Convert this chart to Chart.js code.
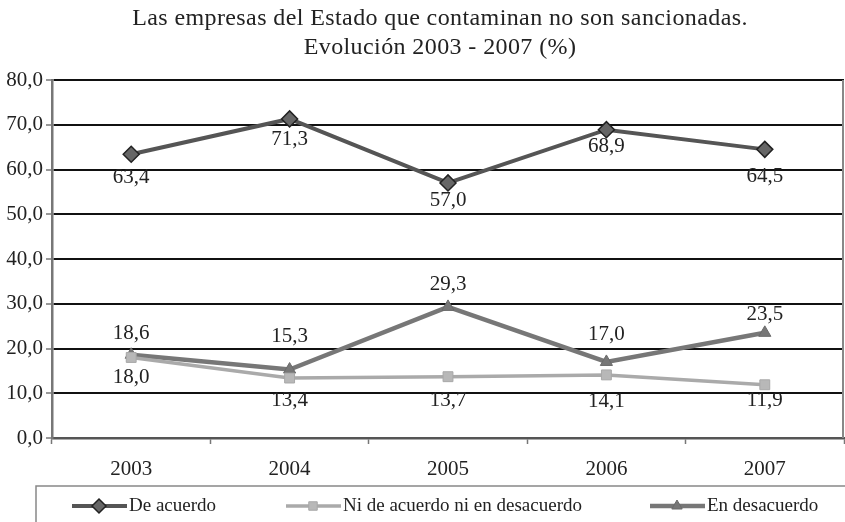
<!DOCTYPE html>
<html>
<head>
<meta charset="utf-8">
<script src="https://cdn.jsdelivr.net/npm/chart.js@4"></script>
<style>
  html, body { margin: 0; padding: 0; background: #fff; }
  #cont { width: 845px; height: 522px; }
</style>
</head>
<body>
<div id="cont"><canvas id="grafico" width="845" height="522"></canvas></div>
<script>
// Datos del gráfico
const anios = ['2003', '2004', '2005', '2006', '2007'];
const deAcuerdo = [63.4, 71.3, 57.0, 68.9, 64.5];
const niDeAcuerdo = [18.0, 13.4, 13.7, 14.1, 11.9];
const enDesacuerdo = [18.6, 15.3, 29.3, 17.0, 23.5];
const ticksY = [0, 10, 20, 30, 40, 50, 60, 70, 80];
const titulo = ['Las empresas del Estado que contaminan no son sancionadas.', 'Evolución 2003 - 2007 (%)'];

// Desplazamiento vertical de las etiquetas (px) por serie y punto
const desplazamientos = [
    [23, 21, 18, 17, 27],
    [20, 22, 24, 27, 16],
    [-21, -33, -22, -27, -18]
];

const fuente = '"Liberation Serif", "DejaVu Serif", serif';
const fmt = v => v.toFixed(1).replace('.', ',');

// Etiquetas de datos, título y leyenda dibujados a mano
const extras = {
    id: 'extras',
    beforeDatasetsDraw(chart) {
        // borde derecho del área del gráfico
        const a = chart.chartArea;
        const ctx = chart.ctx;
        ctx.save();
        ctx.strokeStyle = '#888';
        ctx.lineWidth = 2;
        ctx.beginPath();
        ctx.moveTo(a.right - 1, a.top);
        ctx.lineTo(a.right - 1, a.bottom);
        ctx.stroke();
        ctx.restore();
    },
    afterDatasetsDraw(chart) {
        const ctx = chart.ctx;
        ctx.save();
        ctx.font = '21px ' + fuente;
        ctx.fillStyle = '#222';
        ctx.textAlign = 'center';
        ctx.textBaseline = 'middle';
        chart.data.datasets.forEach((ds, i) => {
            chart.getDatasetMeta(i).data.forEach((p, j) => {
                ctx.fillText(fmt(ds.data[j]), p.x, p.y + desplazamientos[i][j]);
            });
        });
        ctx.restore();
    },
    afterDraw(chart) {
        const ctx = chart.ctx;
        ctx.save();
        // título
        ctx.font = '24px ' + fuente;
        ctx.letterSpacing = '0.4px';
        ctx.fillStyle = '#222';
        ctx.textAlign = 'center';
        ctx.textBaseline = 'middle';
        ctx.fillText(titulo[0], 440, 19);
        ctx.fillText(titulo[1], 440, 48);
        ctx.letterSpacing = '0px';

        // caja de la leyenda
        ctx.strokeStyle = '#888';
        ctx.lineWidth = 1.5;
        ctx.strokeRect(36, 486, 860, 60);

        // elementos de la leyenda
        const items = [
            {x: 72, ds: 0},
            {x: 286, ds: 1},
            {x: 650, ds: 2}
        ];
        ctx.font = '19px ' + fuente;
        ctx.textAlign = 'left';
        items.forEach(it => {
            const ds = chart.data.datasets[it.ds];
            const y = 506;
            ctx.strokeStyle = ds.borderColor;
            ctx.lineWidth = ds.borderWidth;
            ctx.beginPath();
            ctx.moveTo(it.x, y);
            ctx.lineTo(it.x + 55, y);
            ctx.stroke();
            ctx.fillStyle = ds.pointBackgroundColor;
            ctx.strokeStyle = ds.pointBorderColor;
            ctx.lineWidth = ds.pointBorderWidth;
            Chart.helpers.drawPoint(ctx, {
                pointStyle: ds.pointStyle,
                radius: ds.pointRadius - 1,
                rotation: 0,
                borderWidth: ds.pointBorderWidth
            }, it.x + 27, y);
            ctx.fillStyle = '#222';
            ctx.fillText(ds.label, it.x + 57, y);
        });
        ctx.restore();
    }
};

const ctxLineas = document.getElementById('grafico').getContext('2d');
new Chart(ctxLineas, {
    type: 'line',
    data: {
        labels: anios,
        datasets: [{
            label: 'De acuerdo',
            data: deAcuerdo,
            borderColor: '#555',
            borderWidth: 4,
            pointStyle: 'rectRot',
            pointRadius: 8,
            pointBackgroundColor: '#666',
            pointBorderColor: '#222',
            pointBorderWidth: 1.5
        }, {
            label: 'Ni de acuerdo ni en desacuerdo',
            data: niDeAcuerdo,
            borderColor: '#aaa',
            borderWidth: 3.5,
            pointStyle: 'rect',
            pointRadius: 7,
            pointBackgroundColor: '#b8b8b8',
            pointBorderColor: '#a8a8a8',
            pointBorderWidth: 1
        }, {
            label: 'En desacuerdo',
            data: enDesacuerdo,
            borderColor: '#777',
            borderWidth: 4.5,
            pointStyle: 'triangle',
            pointRadius: 7,
            pointBackgroundColor: '#777',
            pointBorderColor: '#6a6a6a',
            pointBorderWidth: 1
        }]
    },
    options: {
        responsive: false,
        animation: false,
        maintainAspectRatio: false,
        layout: { autoPadding: false, padding: { top: 80, right: 1, left: 0, bottom: 40 } },
        plugins: {
            legend: { display: false },
            title: { display: false },
            tooltip: { enabled: false }
        },
        scales: {
            x: {
                offset: true,
                afterFit: s => { s.height = 44; },
                grid: {
                    offset: true,
                    drawOnChartArea: false,
                    drawTicks: true,
                    tickLength: 6,
                    tickWidth: 1.5,
                    tickColor: '#777'
                },
                border: { color: '#555', width: 2.5 },
                ticks: {
                    color: '#222',
                    font: { family: fuente, size: 21 },
                    padding: 13
                }
            },
            y: {
                min: 0,
                max: 80,
                afterFit: s => { s.width = 52; },
                afterBuildTicks: s => { s.ticks = ticksY.map(v => ({ value: v })); },
                grid: {
                    color: '#111',
                    lineWidth: 2,
                    tickLength: 6,
                    tickColor: '#777',
                    tickWidth: 1.5
                },
                border: { color: '#777', width: 2.5 },
                ticks: {
                    color: '#222',
                    font: { family: fuente, size: 21 },
                    padding: 3,
                    callback: v => fmt(v)
                }
            }
        }
    },
    plugins: [extras]
});
</script>
</body>
</html>
